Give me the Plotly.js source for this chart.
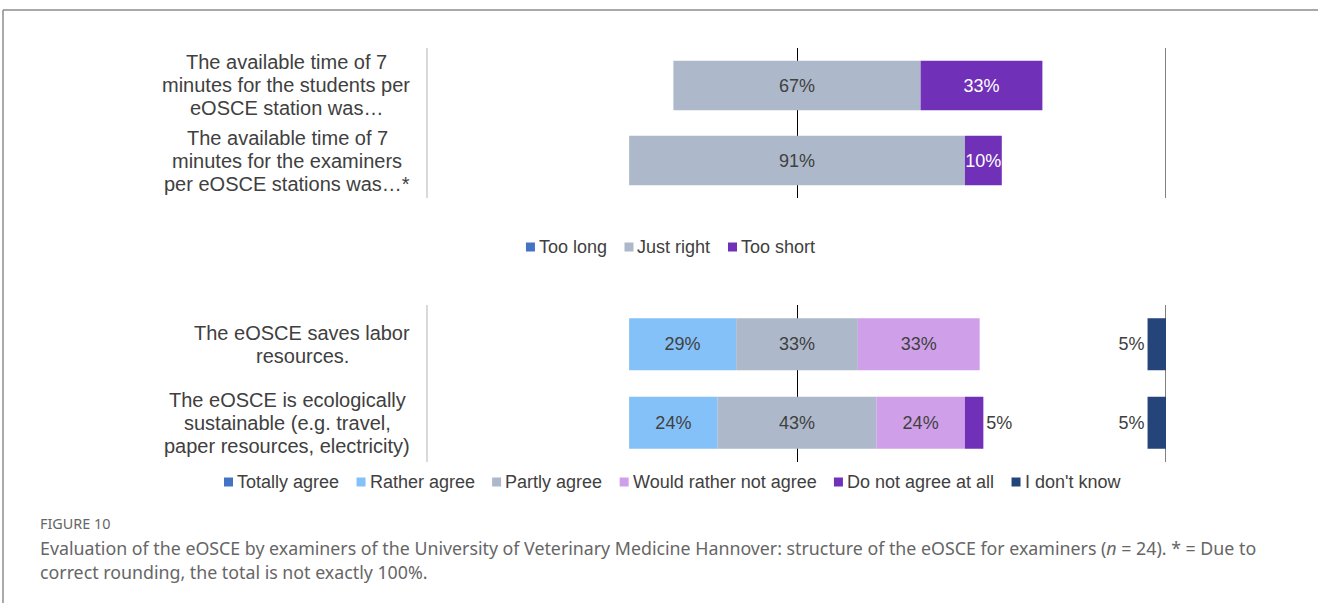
<!DOCTYPE html>
<html><head><meta charset="utf-8">
<script src="https://cdn.plot.ly/plotly-3.0.1.min.js"></script>
<style>html,body{margin:0;padding:0;background:#fff;} #chart{width:1318px;height:603px;}</style>
</head><body><div id="chart"></div>
<script>
// ---- data ----
const topCategories = [
  "The available time of 7<br>minutes for the students per<br>eOSCE station was…",
  "The available time of 7<br>minutes for the examiners<br>per eOSCE stations was…*"
];
const topSeries = ["Too long", "Just right", "Too short"];
const tooLong = [0, 0];
const justRight = [67, 91];
const tooShort = [33, 10];

const bottomCategories = [
  "The eOSCE saves labor<br>resources.",
  "The eOSCE is ecologically<br>sustainable (e.g. travel,<br>paper resources, electricity)"
];
const bottomSeries = ["Totally agree", "Rather agree", "Partly agree", "Would rather not agree", "Do not agree at all", "I don't know"];
const totallyAgree = [0, 0];
const ratherAgree = [29, 24];
const partlyAgree = [33, 43];
const wouldRatherNot = [33, 24];
const doNotAgree = [0, 5];
const dontKnow = [5, 5];

// ---- styling ----
const FONT = "Liberation Sans, Arial, sans-serif";
const TXT = "#404040";
const C = {
  blue: "#4472C4", gray: "#ADB9CA", purple: "#7030B8",
  light: "#85C1F9", lav: "#CFA0E9", navy: "#25447A"
};
const topColors = [C.blue, C.gray, C.purple];
const bottomColors = [C.blue, C.light, C.gray, C.lav, C.purple, C.navy];
const pct = v => v > 0 ? v + "%" : "";
const W = 1318, H = 603;
const px = x => x / W, py = y => 1 - y / H;

function bar(name, vals, base, cats, color, ax, textColor, pos) {
  return {
    type: "bar", orientation: "h", name: name,
    y: cats, x: vals, base: base,
    xaxis: ax[0], yaxis: ax[1],
    marker: {color: color, line: {width: 0}},
    width: 0.66,
    text: vals.map(pct), textposition: pos || "inside", insidetextanchor: "middle",
    textangle: 0, constraintext: "none",
    textfont: {family: FONT, size: 18, color: textColor},
    insidetextfont: {family: FONT, size: 18, color: textColor},
    outsidetextfont: {family: FONT, size: 18, color: TXT},
    cliponaxis: false,
    hoverinfo: "skip"
  };
}

// top panel (centered on "Just right")
const tTop = ["x", "y"];
const traces = [
  bar(topSeries[0], tooLong, tooLong.map((v, i) => -justRight[i] / 2 - v), topCategories, topColors[0], tTop, TXT),
  bar(topSeries[1], justRight, justRight.map(v => -v / 2), topCategories, topColors[1], tTop, TXT),
  bar(topSeries[2], tooShort, justRight.map(v => v / 2), topCategories, topColors[2], tTop, "#ffffff")
];
// bottom panel (centered on "Partly agree")
const tBot = ["x2", "y2"];
traces.push(
  bar(bottomSeries[0], totallyAgree, totallyAgree.map((v, i) => -partlyAgree[i] / 2 - ratherAgree[i] - v), bottomCategories, bottomColors[0], tBot, TXT),
  bar(bottomSeries[1], ratherAgree, ratherAgree.map((v, i) => -partlyAgree[i] / 2 - v), bottomCategories, bottomColors[1], tBot, TXT),
  bar(bottomSeries[2], partlyAgree, partlyAgree.map(v => -v / 2), bottomCategories, bottomColors[2], tBot, TXT),
  bar(bottomSeries[3], wouldRatherNot, partlyAgree.map(v => v / 2), bottomCategories, bottomColors[3], tBot, TXT),
  bar(bottomSeries[4], doNotAgree, partlyAgree.map((v, i) => v / 2 + wouldRatherNot[i]), bottomCategories, bottomColors[4], tBot, "#ffffff", "outside"),
  bar(bottomSeries[5], dontKnow.map(v => -v), dontKnow.map(() => 100), bottomCategories, bottomColors[5], tBot, TXT, "outside")
);
traces[traces.length - 1].text = dontKnow.map(pct);

const xDom = [px(428), px(1166)];
const xa = {domain: xDom, range: [-100, 100], showticklabels: false, showgrid: false,
  zeroline: true, zerolinecolor: "#000", zerolinewidth: 1, ticks: "", fixedrange: true};
const ya = {type: "category", range: [1.5, -0.5], showticklabels: false, showgrid: false,
  showline: true, linecolor: "#d9d9d9", linewidth: 2, zeroline: false, ticks: "", fixedrange: true};

const annotations = [];
const shapes = [];
const ctx = document.createElement("canvas").getContext("2d");
function textWidth(t, size) { ctx.font = size + "px 'Liberation Sans', Arial, sans-serif"; return ctx.measureText(t).width; }

// category labels: centred lines, block right edge at the axis-label edge
function addLabels(cats, yref) {
  cats.forEach(c => {
    const lines = c.split("<br>");
    const maxW = Math.max.apply(null, lines.map(l => textWidth(l, 20)));
    const cx = 410 - maxW / 2;
    lines.forEach((l, i) => annotations.push({
      xref: "paper", yref: yref, x: px(cx), y: c, xanchor: "center", yanchor: "middle",
      yshift: -(i - (lines.length - 1) / 2) * 23, text: l, showarrow: false,
      font: {family: FONT, size: 20, color: TXT}
    }));
  });
}
addLabels(topCategories, "y");
addLabels(bottomCategories, "y2");

// compact legends (square + name), centred
function addLegend(names, colors, cx, cy) {
  const sq = 9, g1 = 3, g2 = 18.5;
  const widths = names.map(n => textWidth(n, 18));
  const total = widths.reduce((a, w) => a + sq + g1 + w, 0) + g2 * (names.length - 1);
  let x = cx - total / 2;
  names.forEach((n, i) => {
    shapes.push({type: "rect", xref: "paper", yref: "paper", x0: px(x), x1: px(x + sq),
      y0: py(cy + sq / 2), y1: py(cy - sq / 2), fillcolor: colors[i], line: {width: 0}});
    annotations.push({xref: "paper", yref: "paper", x: px(x + sq + g1 - 1), y: py(cy), xanchor: "left",
      yanchor: "middle", text: n, showarrow: false, font: {family: FONT, size: 18, color: TXT}});
    x += sq + g1 + widths[i] + g2;
  });
}
addLegend(topSeries, topColors, 670, 247);
addLegend(bottomSeries, bottomColors, 671.5, 482);

const CAP = "Noto Sans, sans-serif";
annotations.push(
  {xref: "paper", yref: "paper", x: px(38), y: py(523), xanchor: "left", yanchor: "middle", showarrow: false,
   text: "FIGURE 10", font: {family: CAP, size: 14.4, color: "#666666"}},
  {xref: "paper", yref: "paper", x: px(38), y: py(548), xanchor: "left", yanchor: "middle", showarrow: false,
   text: "Evaluation of the eOSCE by examiners of the University of Veterinary Medicine Hannover: structure of the eOSCE for examiners (<i>n</i> = 24). * = Due to",
   font: {family: CAP, size: 17.8, color: "#666666"}},
  {xref: "paper", yref: "paper", x: px(38), y: py(572), xanchor: "left", yanchor: "middle", showarrow: false,
   text: "correct rounding, the total is not exactly 100%.",
   font: {family: CAP, size: 17.8, color: "#666666"}}
);

shapes.push(
  {type: "line", xref: "x", yref: "y domain", x0: 100, x1: 100, y0: 0, y1: 1, line: {color: "#000", width: 1}, layer: "below"},
  {type: "line", xref: "x2", yref: "y2 domain", x0: 100, x1: 100, y0: 0, y1: 1, line: {color: "#000", width: 1}, layer: "below"},
  {type: "line", xref: "paper", yref: "paper", x0: px(3), x1: 1, y0: py(10), y1: py(10), line: {color: "#8c8c8c", width: 1.5}},
  {type: "line", xref: "paper", yref: "paper", x0: px(3), x1: px(3), y0: 0, y1: py(10), line: {color: "#8c8c8c", width: 1.5}}
);

const layout = {
  width: W, height: H, autosize: false,
  margin: {l: 0, r: 0, t: 0, b: 0},
  paper_bgcolor: "#fff", plot_bgcolor: "#fff",
  barmode: "overlay",
  showlegend: false,
  xaxis: Object.assign({}, xa, {anchor: "y"}),
  yaxis: Object.assign({}, ya, {domain: [py(198), py(48)], anchor: "x"}),
  xaxis2: Object.assign({}, xa, {anchor: "y2"}),
  yaxis2: Object.assign({}, ya, {domain: [py(462), py(305)], anchor: "x2"}),
  annotations: annotations,
  shapes: shapes,
  font: {family: FONT, color: TXT}
};

Plotly.newPlot("chart", traces, layout, {staticPlot: true, displayModeBar: false});
</script>
</body></html>
